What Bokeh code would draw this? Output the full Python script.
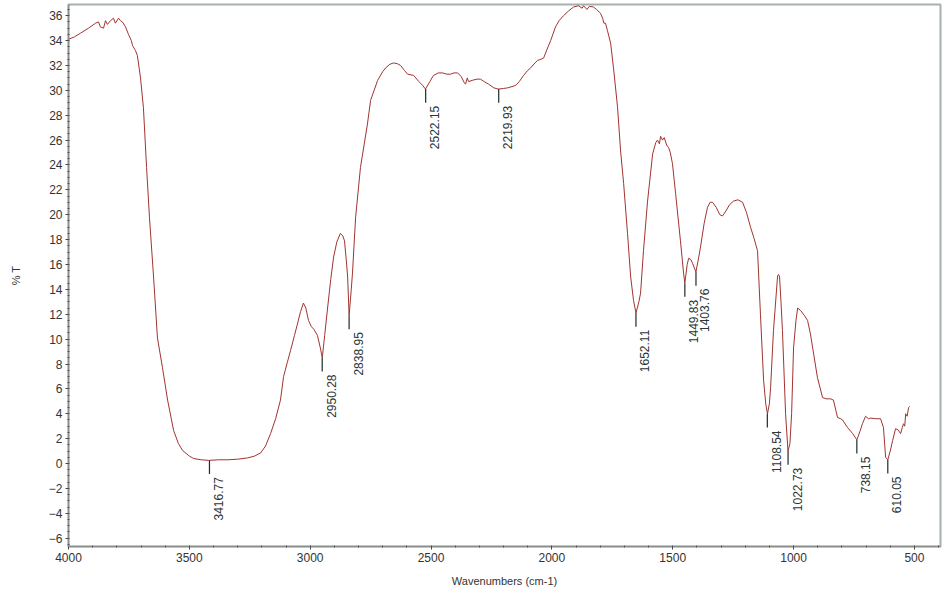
import math
from bokeh.plotting import figure
from bokeh.models import Range1d, FixedTicker, ColumnDataSource
from bokeh.embed import file_html
from bokeh.resources import INLINE
from bokeh.core.properties import value

# ---- spectrum data (wavenumber cm-1, %T) ----
wavenumber = [
    4000, 3975, 3950, 3917, 3888, 3876, 3868, 3855, 3847, 3839, 3826, 3814, 3806, 3793,
    3785, 3777, 3764, 3752, 3740, 3735, 3723, 3715, 3702, 3690, 3677, 3665, 3648, 3632,
    3611, 3590, 3565, 3545, 3528, 3500, 3482, 3450, 3420, 3380, 3340, 3300, 3259, 3230,
    3205, 3185, 3164, 3143, 3123, 3110, 3095, 3081, 3065, 3053, 3040, 3028, 3018, 3007,
    2995, 2985, 2970, 2958, 2950, 2940, 2928, 2915, 2903, 2890, 2875, 2865, 2858, 2850,
    2845, 2839, 2830, 2825, 2812, 2792, 2763, 2750, 2721, 2700, 2688, 2670, 2655, 2640,
    2626, 2610, 2597, 2572, 2550, 2535, 2523, 2505, 2490, 2470, 2452, 2435, 2419, 2405,
    2390, 2375, 2362, 2357, 2350, 2345, 2330, 2310, 2295, 2280, 2262, 2240, 2222, 2200,
    2183, 2165, 2150, 2135, 2117, 2100, 2088, 2070, 2059, 2045, 2034, 2020, 2005, 1985,
    1970, 1952, 1930, 1910, 1890, 1875, 1869, 1855, 1845, 1828, 1815, 1799, 1790, 1785,
    1778, 1770, 1757, 1745, 1728, 1716, 1703, 1687, 1674, 1662, 1652, 1640, 1633, 1621,
    1604, 1583, 1570, 1563, 1555, 1550, 1542, 1535, 1525, 1517, 1510, 1501, 1488, 1468,
    1455, 1450, 1440, 1434, 1425, 1418, 1404, 1395, 1385, 1370, 1356, 1345, 1335, 1320,
    1305, 1294, 1280, 1265, 1248, 1230, 1211, 1195, 1178, 1165, 1149, 1137, 1124, 1115,
    1108, 1100, 1095, 1083, 1066, 1062, 1058, 1052, 1046, 1033, 1023, 1015, 1008, 1000,
    990, 983, 971, 955, 942, 930, 921, 901, 880, 865, 847, 835, 818, 805,
    797, 777, 755, 738, 725, 715, 702, 690, 681, 660, 640, 628, 619, 610,
    600, 590, 578, 567, 557, 550, 545, 540, 536, 530, 524, 520,
]
transmittance = [
    34.1, 34.3, 34.6, 35.0, 35.4, 35.5, 35.1, 35.0, 35.6, 35.3, 35.6, 35.8, 35.4, 35.8,
    35.6, 35.5, 35.1, 34.5, 34.0, 33.6, 33.2, 32.8, 31.0, 28.6, 23.8, 19.8, 15.0, 10.1,
    7.7, 5.1, 2.65, 1.6, 1.05, 0.6, 0.4, 0.3, 0.25, 0.3, 0.3, 0.35, 0.45, 0.6,
    0.85, 1.4, 2.4, 3.6, 5.1, 7.0, 8.1, 9.1, 10.3, 11.2, 12.2, 12.9, 12.5, 11.5,
    11.0, 10.8, 10.3, 9.3, 8.5, 10.3, 12.5, 14.8, 16.6, 17.8, 18.5, 18.3, 17.9, 16.2,
    15.0, 11.9, 14.0, 15.3, 19.8, 23.8, 27.3, 29.2, 30.8, 31.5, 31.8, 32.1, 32.2, 32.15,
    32.0, 31.6, 31.3, 31.2, 30.7, 30.4, 30.1, 30.7, 31.2, 31.4, 31.4, 31.3, 31.3, 31.4,
    31.4, 31.1, 30.6, 30.5, 31.0, 30.7, 30.8, 30.9, 30.9, 30.7, 30.5, 30.2, 30.1, 30.15,
    30.2, 30.3, 30.4, 30.7, 31.2, 31.6, 31.8, 32.2, 32.4, 32.5, 32.6, 33.3, 34.0, 35.1,
    35.6, 36.0, 36.4, 36.7, 36.8, 36.6, 36.8, 36.5, 36.75, 36.7, 36.5, 36.2, 35.8, 35.4,
    35.4, 34.8, 33.8, 31.8, 28.6, 25.2, 22.5, 18.5, 15.0, 13.1, 12.1, 13.0, 13.7, 17.1,
    21.1, 24.9, 25.8, 26.0, 25.7, 26.3, 26.0, 26.2, 25.6, 25.4, 25.0, 24.1, 21.7, 17.9,
    15.3, 14.5, 16.0, 16.5, 16.4, 16.1, 15.4, 16.3, 17.4, 19.3, 20.6, 21.0, 21.0, 20.6,
    20.0, 19.9, 20.3, 20.8, 21.1, 21.2, 21.0, 20.2, 19.0, 18.2, 17.1, 12.0, 6.7, 4.8,
    4.0, 4.8, 6.1, 10.7, 15.1, 15.2, 15.0, 13.0, 10.7, 4.0, 1.0, 1.6, 4.0, 9.3,
    11.5, 12.5, 12.3, 11.9, 11.5, 10.4, 9.3, 6.9, 5.3, 5.2, 5.2, 5.1, 3.7, 3.6,
    3.5, 2.9, 2.4, 1.9, 2.6, 3.2, 3.8, 3.6, 3.65, 3.6, 3.6, 2.9, 0.5, 0.3,
    1.0, 1.85, 2.8, 2.7, 2.4, 2.9, 3.2, 3.0, 4.0, 3.8, 4.5, 4.6,
]

# ---- annotated peaks ----
peak_wavenumbers = [3416.77, 2950.28, 2838.95, 2522.15, 2219.93, 1652.11,
                    1449.83, 1403.76, 1108.54, 1022.73, 738.15, 610.05]
peak_transmittance = [0.25, 8.5, 11.9, 30.1, 30.1, 12.1,
                      14.5, 15.4, 4.0, 1.0, 1.9, 0.3]
peak_labels = ["3416.77", "2950.28", "2838.95", "2522.15", "2219.93", "1652.11",
               "1449.83", "1403.76", "1108.54", "1022.73", "738.15", "610.05"]

x_tick_values = [4000, 3500, 3000, 2500, 2000, 1500, 1000, 500]
x_minor_values = list(range(400, 4001, 100))
y_tick_values = list(range(-6, 37, 2))
y_minor_values = [v / 2 for v in range(-13, 74)]

FONT = "Liberation Sans"
TICK_LEN = 1.1

p = figure(width=945, height=596, output_backend="svg", toolbar_location=None,
           x_range=Range1d(4000, 392), y_range=Range1d(-6.67, 36.9),
           min_border_left=68, min_border_right=5, min_border_top=4,
           min_border_bottom=50, background_fill_color="white",
           border_fill_color="white")
p.grid.visible = False
p.outline_line_color = "#a8b0ad"
p.outline_line_width = 2

p.line(wavenumber, transmittance, line_color="#a03430", line_width=1)

src = ColumnDataSource(dict(
    x=peak_wavenumbers,
    y0=peak_transmittance,
    y1=[t - TICK_LEN for t in peak_transmittance],
    label=peak_labels,
))
p.segment(x0="x", y0="y0", x1="x", y1="y1", source=src, line_color="#1e2a2a", line_width=1.2)
p.text(x="x", y="y1", text="label", source=src, angle=math.pi / 2,
       text_align="right", text_baseline="middle", x_offset=9, y_offset=3,
       text_font=value(FONT), text_font_size="12px", text_color="#2b3636")

for ax in (p.xaxis[0], p.yaxis[0]):
    ax.axis_line_color = "#8a8f8c"
    ax.axis_line_width = 1.5
    ax.major_tick_line_color = "#444444"
    ax.minor_tick_line_color = "#555555"
    ax.major_tick_in = 0
    ax.major_tick_out = 3
    ax.minor_tick_in = 1
    ax.minor_tick_out = 1
    ax.major_label_text_font = FONT
    ax.major_label_text_font_size = "12px"
    ax.major_label_text_color = "#333333"
    ax.major_label_standoff = 3
    ax.axis_label_text_font = FONT
    ax.axis_label_text_font_size = "11px"
    ax.axis_label_text_font_style = "normal"
    ax.axis_label_text_color = "#333333"

p.xaxis.ticker = FixedTicker(ticks=x_tick_values, minor_ticks=x_minor_values)
p.yaxis.ticker = FixedTicker(ticks=y_tick_values, minor_ticks=y_minor_values)
p.xaxis.axis_label = "Wavenumbers (cm-1)"
p.yaxis.axis_label = "% T"
p.xaxis.axis_label_standoff = 10
p.yaxis.axis_label_standoff = 24

open("out.html", "w").write(file_html(p, INLINE))
